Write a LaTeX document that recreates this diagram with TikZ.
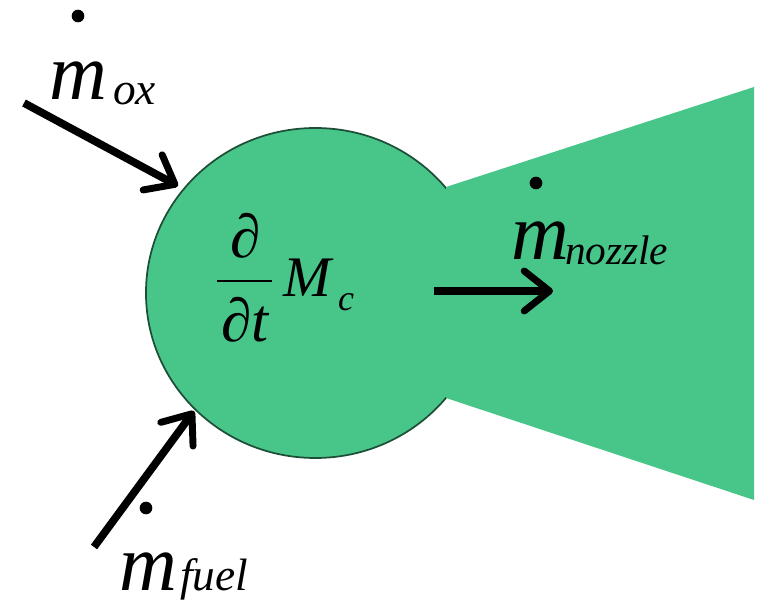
\documentclass[tikz,border=0pt]{standalone}
\usepackage{fontspec}
\setmainfont{Liberation Serif}
\usetikzlibrary{arrows.meta,shapes.geometric}
\definecolor{chamber}{HTML}{48C68A}
\tikzset{
  txt/.style={anchor=base west,inner sep=0pt,outer sep=0pt,text=black,font=\itshape},
  big/.style={txt,font=\fontsize{60}{60}\selectfont\itshape},
  subs/.style={txt,font=\fontsize{34}{34}\selectfont\itshape},
  mid/.style={txt,font=\fontsize{46}{46}\selectfont\itshape},
  flow/.style={line width=5.8pt,-{Straight Barb[round,length=19pt,width=30pt,line width=5.2pt]}},
  dotmark/.style={circle,fill=black,inner sep=0pt,minimum size=9.5pt},
}
\begin{document}
\begin{tikzpicture}[x=0.75pt,y=-0.75pt]
\useasboundingbox (0,0) rectangle (757,605);
% body
\node[ellipse,minimum width=254pt,minimum height=247.5pt,inner sep=0pt,fill=chamber,draw=black!60!chamber,line width=1.3pt] (chamber) at (315.3,293) {};
\fill[chamber] (446,187) -- (754,87) -- (754,500) -- (446,398) -- cycle;
% free ends
\coordinate (oxs) at (24,103);
\coordinate (oxe) at (178,186);
\coordinate (fus) at (94,547);
\coordinate (fue) at (194,411);
\coordinate (nzs) at (434,291);
\coordinate (nze) at (553,291);
\draw[flow] (oxs) -- (oxe);
\draw[flow] (fus) -- (fue);
\draw[flow] (nzs) -- (nze);
% dots
\node[dotmark] (d1) at (78,16) {};
\node[dotmark] (d2) at (536,183) {};
\node[dotmark] (d3) at (146,508) {};
% labels
\node[big] (m1) at (49,100) {m};
\node[subs] (s1) at (113,105) {ox};
\node[big] (m2) at (511,260) {m};
\node[subs,font=\fontsize{31}{31}\selectfont\itshape] (s2) at (565,265) {nozzle};
\node[big] (m3) at (119,590) {m};
\node[subs] (s3) at (180,590) {fuel};
% time derivative
\node[mid,anchor=base] (p1) at (246,258) {∂};
\node[mid,anchor=base] (p2) at (245,342) {∂t};
\coordinate (bl) at (217,281);
\coordinate (br) at (272,281);
\draw[line width=2.2pt] (bl) -- (br);
\node[txt,font=\fontsize{43}{43}\selectfont\itshape] (M) at (283,297) {M};
\node[txt,font=\fontsize{27}{27}\selectfont\itshape] (c) at (338,311) {c};
\end{tikzpicture}
\end{document}
